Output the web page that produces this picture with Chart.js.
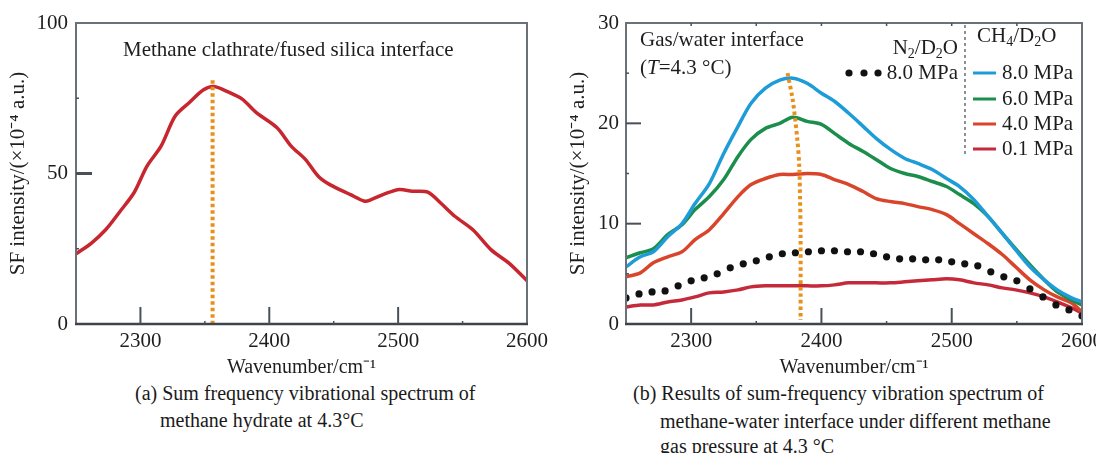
<!DOCTYPE html>
<html><head><meta charset="utf-8">
<script src="https://cdn.jsdelivr.net/npm/chart.js@4.4.1/dist/chart.umd.min.js"></script>
<style>
html,body{margin:0;padding:0;background:#fff;width:1096px;height:453px;overflow:hidden;position:relative;font-family:"Liberation Serif","Times New Roman",serif;}
canvas{position:absolute;top:0;}
#ca{left:0;width:560px;height:380px}
#cb{left:560px;width:560px;height:380px}
.cap{position:absolute;font-size:20px;color:#1a1a1a;white-space:nowrap;line-height:26px;}
</style></head><body>
<canvas id="ca" width="560" height="380"></canvas>
<canvas id="cb" width="560" height="380"></canvas>
<div class="cap" style="left:135px;top:380px">(a) Sum frequency vibrational spectrum of</div>
<div class="cap" style="left:160px;top:407px">methane hydrate at 4.3°C</div>
<div class="cap" style="left:633px;top:380px">(b) Results of sum-frequency vibration spectrum of</div>
<div class="cap" style="left:660px;top:408px">methane-water interface under different methane</div>
<div class="cap" style="left:660px;top:433px">gas pressure at 4.3 °C</div>
<script>
// ---------- DATA ----------
// (a) methane clathrate / fused silica
const wnA = [2250,2262,2273,2284,2295,2305,2316,2327,2338,2349,2357,2368,2379,2390,2406,2417,2428,2438,2447,2463,2474,2479,2490,2501,2511,2523,2533,2544,2558,2572,2586,2600];
const sfA = [23.3,26.9,31.3,37.3,43.6,52.4,59.1,69.1,73.6,77.8,78.9,77.1,74.7,70.2,65.2,59.1,54.7,49.1,46.3,43.0,40.8,41.3,43.3,44.7,44.1,43.8,40.2,35.8,31.3,24.7,20.2,14.4];
const peakA_x = [2356,2356];
const peakA_y = [81,0];
const xTicksA = [2300,2400,2500,2600];
const yTicksA = [0,50,100];

// (b) gas / water interface
const wnB = [2250,2261,2271,2282,2293,2303,2314,2325,2336,2346,2357,2368,2378,2389,2400,2410,2421,2432,2442,2453,2464,2474,2485,2496,2506,2517,2528,2539,2549,2560,2571,2581,2592,2600];
const ch4_80 = [5.7,6.7,7.2,8.7,10.0,12.0,14.0,17.0,19.7,22.0,23.5,24.3,24.5,24.0,23.0,22.2,21.0,19.7,18.5,17.4,16.5,16.0,15.4,14.5,13.7,12.4,10.7,9.0,7.4,5.7,4.4,3.4,2.6,2.2];
const ch4_60 = [6.6,7.1,7.5,8.9,9.9,11.4,12.7,14.4,16.7,18.4,19.5,20.0,20.6,20.2,19.9,19.0,18.0,17.2,16.4,15.5,15.0,14.7,14.2,13.7,12.9,12.0,10.7,9.0,7.5,5.9,4.4,3.2,2.4,1.9];
const ch4_40 = [4.7,5.1,6.1,6.7,7.2,8.4,9.4,11.0,12.7,13.9,14.5,14.9,14.9,15.0,14.9,14.4,13.9,13.2,12.5,12.2,12.0,11.7,11.4,10.9,10.0,9.0,8.0,6.9,5.7,4.4,3.4,2.7,2.1,1.2];
const ch4_01 = [1.7,1.9,1.9,2.2,2.4,2.7,3.1,3.2,3.4,3.7,3.8,3.8,3.8,3.8,3.8,3.9,4.1,4.1,4.1,4.1,4.2,4.3,4.4,4.5,4.4,4.1,3.9,3.6,3.4,3.1,2.7,2.2,1.6,1.1];
const wnN2 = [2250,2260,2270,2280,2290,2300,2310,2320,2330,2340,2350,2360,2370,2380,2390,2400,2410,2420,2430,2440,2450,2460,2470,2480,2490,2500,2510,2520,2530,2540,2550,2560,2570,2580,2590,2600];
const n2_80 = [2.6,3.0,3.2,3.3,3.8,4.3,4.6,5.0,5.6,6.0,6.3,6.7,7.0,7.1,7.2,7.3,7.3,7.2,7.2,7.0,6.7,6.5,6.5,6.4,6.4,6.2,6.0,5.8,5.2,4.7,4.3,3.5,2.7,1.9,1.4,0.8];
const peakB_x = [2374,2378,2381.5,2383,2383.6,2384,2384];
const peakB_y = [25,22.3,18.4,15.7,12.4,9.0,0.4];
const xTicksB = [2300,2400,2500,2600];
const yTicksB = [0,10,20,30];
const legendB = ['8.0 MPa','6.0 MPa','4.0 MPa','0.1 MPa'];

// ---------- STYLE ----------
const F = '"Liberation Serif","Times New Roman",serif';
const TXT = '#1e1e1e';
const C = {a:'#c8262f', b80:'#1e9cd8', b60:'#1b8e4c', b40:'#d9452b', b01:'#c52a3b', orange:'#e8901c', frame:'#6a7178', axis:'#3e444b'};
Chart.defaults.devicePixelRatio = 1;

const pts = (xs, ys) => xs.map((x,i)=>({x:x, y:ys[i]}));

function framePlugin(cfg){
  return {id:'frame'+cfg.id, afterDatasetsDraw(chart){
    const {ctx, chartArea:a, scales:{x, y}} = chart;
    ctx.save();
    ctx.lineCap = 'butt';
    ctx.strokeStyle = C.frame; ctx.lineWidth = 2;
    ctx.beginPath();
    ctx.moveTo(a.left, a.bottom); ctx.lineTo(a.left, a.top); ctx.lineTo(a.right, a.top); ctx.lineTo(a.right, a.bottom);
    ctx.stroke();
    ctx.strokeStyle = C.axis; ctx.lineWidth = 2.5;
    ctx.beginPath(); ctx.moveTo(a.left-1, a.bottom); ctx.lineTo(a.right+1, a.bottom); ctx.stroke();
    ctx.strokeStyle = '#4a5057';
    cfg.xMajor.forEach(v=>{const p=x.getPixelForValue(v); ctx.lineWidth=2; ctx.beginPath(); ctx.moveTo(p,a.bottom); ctx.lineTo(p,a.bottom-cfg.xLen); ctx.stroke();});
    cfg.xMinor.forEach(v=>{const p=x.getPixelForValue(v); ctx.lineWidth=1.5; ctx.beginPath(); ctx.moveTo(p,a.bottom); ctx.lineTo(p,a.bottom-3); ctx.stroke();});
    (cfg.xTop||[]).forEach(v=>{const p=x.getPixelForValue(v); ctx.lineWidth=1.5; ctx.beginPath(); ctx.moveTo(p,a.top); ctx.lineTo(p,a.top+3); ctx.stroke();});
    cfg.yMajor.forEach(v=>{const p=y.getPixelForValue(v); ctx.lineWidth=cfg.yW; ctx.beginPath(); ctx.moveTo(a.left,p); ctx.lineTo(a.left+cfg.yLen,p); ctx.stroke();});
    cfg.yMinor.forEach(v=>{const p=y.getPixelForValue(v); ctx.lineWidth=1.5; ctx.beginPath(); ctx.moveTo(a.left,p); ctx.lineTo(a.left+3,p); ctx.stroke();});
    ctx.restore();
  }};
}

function rich(ctx, segs, x, y, size, align){
  const fontOf = m => (m===2?'italic ':'') + (m===1? Math.round(size*0.68) : size) + 'px ' + F;
  let w = 0;
  segs.forEach(([t,m])=>{ctx.font=fontOf(m); w+=ctx.measureText(t).width;});
  let cx = align==='right' ? x-w : x;
  ctx.textBaseline='middle'; ctx.textAlign='left';
  segs.forEach(([t,m])=>{ctx.font=fontOf(m); ctx.fillText(t, cx, m===1? y+size*0.3 : y); cx+=ctx.measureText(t).width;});
}

function axisOpts(min, max, tickVals, title, pad, fit, isX){
  return {
    type:'linear', min:min, max:max,
    afterBuildTicks: s => { s.ticks = tickVals.map(v=>({value:v})); },
    grid:{display:false, drawTicks:false, tickLength:0}, border:{display:false},
    ticks:{font:{family:F,size:21}, color:TXT, padding:pad, maxRotation:0, autoSkip:false, callback:v=>String(v)},
    title:{display:true, text:title, font:{family:F,size: isX?20:21}, color:TXT, padding: isX?{top:0,bottom:0}:{top:6,bottom:0}},
    afterFit: fit
  };
}

// ---------- CHART A ----------
new Chart(document.getElementById('ca'), {
  type:'line',
  data:{datasets:[
    {data:pts(peakA_x, peakA_y), borderColor:C.orange, borderWidth:4, borderDash:[3.5,3], pointRadius:0, tension:0},
    {data:pts(wnA, sfA), borderColor:C.a, borderWidth:3.5, pointRadius:0, tension:0.3}
  ]},
  options:{
    responsive:false, animation:false, events:[],
    layout:{padding:{left:0, top:23, right:33, bottom:0}},
    plugins:{legend:{display:false}, tooltip:{enabled:false}},
    scales:{
      x: axisOpts(2250,2600,xTicksA,'Wavenumber/cm⁻¹',5, s=>{s.height=56;}, true),
      y: axisOpts(0,100,yTicksA,'SF intensity/(×10⁻⁴ a.u.)',8, s=>{s.width=76;}, false)
    }
  },
  plugins:[framePlugin({id:'a', xMajor:[2300,2400,2500], xMinor:[2350,2450,2550], xLen:17, yMajor:[50], yMinor:[25,75], yLen:16, yW:3}),
    {id:'txtA', afterDraw(chart){const ctx=chart.ctx; ctx.save(); ctx.fillStyle=TXT;
      rich(ctx, [['Methane clathrate/fused silica interface',0]], 123, 50, 21, 'left'); ctx.restore();}}]
});

// ---------- CHART B ----------
new Chart(document.getElementById('cb'), {
  type:'line',
  data:{datasets:[
    {data:pts(peakB_x, peakB_y), borderColor:C.orange, borderWidth:4, borderDash:[3.5,3], pointRadius:0, tension:0.3},
    {label:'N2 8.0 MPa', data:pts(wnN2, n2_80), showLine:false, pointRadius:3.6, pointBackgroundColor:'#111', pointBorderWidth:0},
    {label:legendB[0], data:pts(wnB, ch4_80), borderColor:C.b80, borderWidth:3.5, pointRadius:0, tension:0.3},
    {label:legendB[1], data:pts(wnB, ch4_60), borderColor:C.b60, borderWidth:3.5, pointRadius:0, tension:0.3},
    {label:legendB[2], data:pts(wnB, ch4_40), borderColor:C.b40, borderWidth:3.5, pointRadius:0, tension:0.3},
    {label:legendB[3], data:pts(wnB, ch4_01), borderColor:C.b01, borderWidth:3.5, pointRadius:0, tension:0.3}
  ]},
  options:{
    responsive:false, animation:false, events:[],
    layout:{padding:{left:0, top:23, right:38, bottom:0}},
    plugins:{legend:{display:false}, tooltip:{enabled:false}},
    scales:{
      x: axisOpts(2250,2600,xTicksB,'Wavenumber/cm⁻¹',5, s=>{s.height=56;}, true),
      y: axisOpts(0,30,yTicksB,'SF intensity/(×10⁻⁴ a.u.)',7, s=>{s.width=66;}, false)
    }
  },
  plugins:[framePlugin({id:'b', xMajor:[2300,2400,2500], xMinor:[2350,2450,2550], xTop:[2300,2350,2400,2450,2500,2550], xLen:16, yMajor:[10,20], yMinor:[5,15,25], yLen:15, yW:2}),
    {id:'txtB', afterDraw(chart){
      const ctx=chart.ctx; ctx.save(); ctx.fillStyle=TXT;
      rich(ctx, [['Gas/water interface',0]], 80, 40, 21, 'left');
      rich(ctx, [['(',0],['T',2],['=4.3 °C)',0]], 80, 68, 21, 'left');
      rich(ctx, [['N',0],['2',1],['/D',0],['2',1],['O',0]], 398, 48, 21, 'right');
      ctx.fillStyle='#111';
      [289,304,318].forEach(px=>{ctx.beginPath(); ctx.arc(px,73,3.6,0,Math.PI*2); ctx.fill();});
      ctx.fillStyle=TXT;
      rich(ctx, [['8.0 MPa',0]], 398, 73, 21, 'right');
      ctx.strokeStyle='#777'; ctx.lineWidth=1.6; ctx.setLineDash([3,3]);
      ctx.beginPath(); ctx.moveTo(405,25); ctx.lineTo(405,157); ctx.stroke(); ctx.setLineDash([]);
      rich(ctx, [['CH',0],['4',1],['/D',0],['2',1],['O',0]], 417, 36, 21, 'left');
      const cols=[C.b80,C.b60,C.b40,C.b01]; const rows=[73,99,124,149];
      rows.forEach((ry,i)=>{
        ctx.strokeStyle=cols[i]; ctx.lineWidth=3; ctx.beginPath(); ctx.moveTo(413,ry); ctx.lineTo(436,ry); ctx.stroke();
        ctx.fillStyle=TXT; rich(ctx, [[legendB[i],0]], 442, ry, 21, 'left');
      });
      ctx.restore();
    }}]
});
</script>
</body></html>
